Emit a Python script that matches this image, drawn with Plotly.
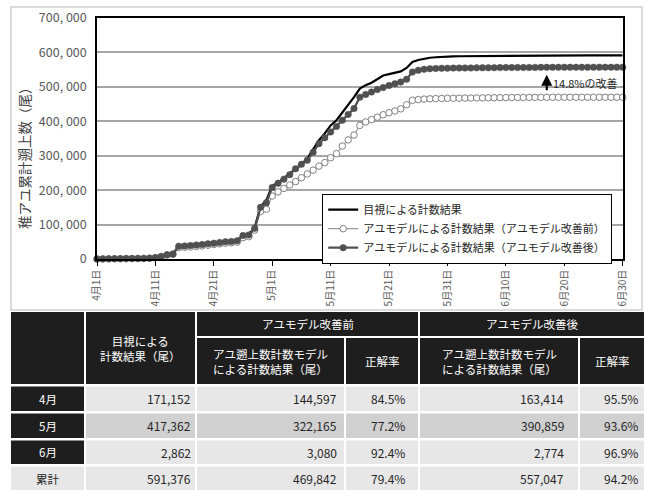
import plotly.graph_objects as go
import pandas as pd

# ---------------- data ----------------
dates = pd.date_range("2023-04-01", "2023-06-30")
categories = [f"{d.month}月{d.day}日" for d in dates]

visual = [
    0, 300, 500, 700, 900, 1100, 1300, 1500, 1800, 2500,
    4000, 8000, 13000, 15000, 38000, 39000, 40500, 41500, 43000, 45000,
    47000, 49000, 51000, 52000, 54000, 70000, 72000, 92000, 152000, 171152,
    212000, 222000, 235000, 248000, 263000, 275000, 292000, 318000, 345000, 365000,
    388000, 403000, 425000, 446000, 470000, 495000, 505000, 512000, 522000, 533000,
    537000, 540000, 545000, 555000, 572000, 578000, 582000, 584500, 586000, 587500,
    588514,
    588700, 588900, 589100, 589300, 589500, 589700, 589850, 590000, 590150, 590300,
    590400, 590500, 590600, 590700, 590800, 590880, 590960, 591040, 591100, 591160,
    591210, 591250, 591280, 591300, 591320, 591335, 591350, 591360, 591370, 591376,
]
model_before = [
    0, 300, 500, 700, 900, 1100, 1300, 1500, 1800, 2400,
    3800, 7000, 11500, 13500, 33000, 34000, 35000, 36500, 38000, 40000,
    42000, 44000, 46000, 47000, 49000, 62000, 65000, 84000, 138000, 144597,
    183000, 195000, 205000, 215000, 225000, 236000, 247000, 258000, 270000, 280000,
    294000, 306000, 328000, 346000, 360000, 388000, 398000, 405000, 412000, 419000,
    425000, 430000, 436000, 448000, 461000, 463000, 464500, 465300, 465800, 466300,
    466762,
    466950, 467150, 467350, 467550, 467750, 467950, 468150, 468350, 468550, 468750,
    468900, 469050, 469200, 469350, 469480, 469560, 469630, 469690, 469730, 469760,
    469780, 469795, 469805, 469815, 469822, 469828, 469833, 469837, 469840, 469842,
]
model_after = [
    0, 300, 500, 700, 900, 1100, 1300, 1500, 1800, 2500,
    4000, 7500, 12500, 14500, 37000, 38000, 39000, 40500, 42000, 44000,
    46000, 48000, 50000, 51000, 53000, 68000, 70000, 89000, 150000, 163414,
    208000, 220000, 232000, 245000, 262000, 275000, 287000, 310000, 335000, 352000,
    369000, 385000, 403000, 420000, 437000, 470000, 478000, 485000, 492000, 498000,
    504000, 509000, 514000, 522000, 543000, 548000, 551000, 552500, 553300, 553800,
    554273,
    554450, 554650, 554850, 555050, 555250, 555450, 555600, 555750, 555900, 556050,
    556150, 556250, 556350, 556450, 556550, 556630, 556710, 556790, 556850, 556900,
    556940, 556970, 556990, 557005, 557015, 557025, 557032, 557038, 557043, 557047,
]

x_tick_labels = ["4月1日", "4月11日", "4月21日", "5月1日", "5月11日",
                 "5月21日", "5月31日", "6月10日", "6月20日", "6月30日"]
y_tick_vals = [0, 100000, 200000, 300000, 400000, 500000, 600000, 700000]
y_tick_labels = ["0", "100, 000", "200, 000", "300, 000", "400, 000",
                 "500, 000", "600, 000", "700, 000"]

series_names = ["目視による計数結果",
                "アユモデルによる計数結果（アユモデル改善前）",
                "アユモデルによる計数結果（アユモデル改善後）"]
y_title = "稚アユ累計遡上数（尾）"
note_text = "14.8%の改善"
note_day = "6月17日"
note_tip, note_text_y = 535000, 512000

# table
row_labels = ["4月", "5月", "6月", "累計"]
tbl_visual = [171152, 417362, 2862, 591376]
tbl_before = [144597, 322165, 3080, 469842]
tbl_before_rate = [84.5, 77.2, 92.4, 79.4]
tbl_after = [163414, 390859, 2774, 557047]
tbl_after_rate = [95.5, 93.6, 96.9, 94.2]
hdr_visual = "目視による<br>計数結果（尾）"
hdr_before = "アユモデル改善前"
hdr_after = "アユモデル改善後"
hdr_model = "アユ遡上数計数モデル<br>による計数結果（尾）"
hdr_rate = "正解率"

# ---------------- layout helpers ----------------
W, H = 647, 490
FONT = "Noto Sans CJK JP"


def fx(p):
    return p / W


def fy(p):
    return 1 - p / H


fig = go.Figure()

fig.add_trace(go.Scatter(
    x=categories, y=visual, name=series_names[0], mode="lines",
    line=dict(color="#000000", width=2.2), cliponaxis=False))
fig.add_trace(go.Scatter(
    x=categories, y=model_before, name=series_names[1], mode="lines+markers",
    line=dict(color="#7f7f7f", width=1),
    marker=dict(symbol="circle", size=6.5, color="#ffffff",
                line=dict(color="#7f7f7f", width=1)), cliponaxis=False))
fig.add_trace(go.Scatter(
    x=categories, y=model_after, name=series_names[2], mode="lines+markers",
    line=dict(color="#505050", width=2.2),
    marker=dict(symbol="circle", size=6.5, color="#505050",
                line=dict(color="#505050", width=0.5)), cliponaxis=False))

shapes = []
annotations = []

# outer frame of chart area
shapes.append(dict(type="rect", xref="paper", yref="paper",
                   x0=fx(11), x1=fx(642), y0=fy(310), y1=fy(7),
                   line=dict(color="#d0d0d0", width=1.5), layer="below"))

# y-axis title
annotations.append(dict(text=y_title, xref="paper", yref="paper",
                        x=fx(24), y=fy(155), xanchor="center", yanchor="middle",
                        textangle=-90, showarrow=False,
                        font=dict(family=FONT, size=13.5, color="#404040")))

# improvement note
annotations.append(dict(x=note_day, y=note_tip, xref="x", yref="y", text="",
                        showarrow=True, ax=0, ay=17, arrowhead=2, arrowsize=1,
                        arrowwidth=2.2, arrowcolor="#000000"))
annotations.append(dict(x=note_day, y=note_text_y, xref="x", yref="y",
                        text=note_text, showarrow=False, xanchor="left",
                        xshift=4, font=dict(family=FONT, size=11, color="#262626")))

# ---------------- table ----------------
BLACK = "#1e1e1e"
LIGHT = "#e7e7e7"
MID = "#d0d0d0"
cols = [(11, 84), (86, 195), (197, 344), (346, 418), (420, 578), (580, 644)]
h1 = (312, 336)
h2 = (338, 384)
rows = [(386.5, 411), (413.5, 438), (440.5, 464), (466.5, 491)]
right_text = [None, 193, 339, 407, 566, 640]


def rect(x0, y0, x1, y1, color):
    shapes.append(dict(type="rect", xref="paper", yref="paper",
                       x0=fx(x0), x1=fx(x1), y0=fy(y1), y1=fy(y0),
                       fillcolor=color, line=dict(width=0), layer="below"))


def text(t, x, y, color, size=11.5, xanchor="center", align="center"):
    annotations.append(dict(text=t, xref="paper", yref="paper", x=fx(x), y=fy(y),
                            xanchor=xanchor, yanchor="middle", align=align,
                            showarrow=False,
                            font=dict(family=FONT, size=size, color=color)))


# header
rect(cols[0][0], h1[0], cols[0][1], h2[1], BLACK)
rect(cols[1][0], h1[0], cols[1][1], h2[1], BLACK)
text(hdr_visual, (cols[1][0] + cols[1][1]) / 2, (h1[0] + h2[1]) / 2, "#ffffff")
rect(cols[2][0], h1[0], cols[3][1], h1[1], BLACK)
text(hdr_before, (cols[2][0] + cols[3][1]) / 2, (h1[0] + h1[1]) / 2, "#ffffff")
rect(cols[4][0], h1[0], cols[5][1], h1[1], BLACK)
text(hdr_after, (cols[4][0] + cols[5][1]) / 2, (h1[0] + h1[1]) / 2, "#ffffff")
for ci, t in [(2, hdr_model), (3, hdr_rate), (4, hdr_model), (5, hdr_rate)]:
    rect(cols[ci][0], h2[0], cols[ci][1], h2[1], BLACK)
    text(t, (cols[ci][0] + cols[ci][1]) / 2, (h2[0] + h2[1]) / 2, "#ffffff",
         align="left")

# body
for ri, (y0, y1) in enumerate(rows):
    is_total = ri == len(rows) - 1
    data_color = MID if ri == 1 else LIGHT
    rect(cols[0][0], y0, cols[0][1], y1, LIGHT if is_total else BLACK)
    text(row_labels[ri], (cols[0][0] + cols[0][1]) / 2, (y0 + y1) / 2,
         "#262626" if is_total else "#ffffff")
    vals = [f"{tbl_visual[ri]:,}", f"{tbl_before[ri]:,}", f"{tbl_before_rate[ri]:.1f}%",
            f"{tbl_after[ri]:,}", f"{tbl_after_rate[ri]:.1f}%"]
    for ci in range(1, 6):
        rect(cols[ci][0], y0, cols[ci][1], y1, data_color)
        text(vals[ci - 1], right_text[ci], (y0 + y1) / 2, "#262626", size=12,
             xanchor="right")

fig.update_layout(
    width=W, height=H, autosize=False,
    margin=dict(l=0, r=0, t=0, b=0, autoexpand=False),
    paper_bgcolor="#ffffff", plot_bgcolor="#ffffff",
    font=dict(family=FONT, size=11, color="#404040"),
    showlegend=True,
    legend=dict(x=fx(322), y=fy(194), xanchor="left", yanchor="top",
                bgcolor="#ffffff", bordercolor="#000000", borderwidth=1.2,
                font=dict(family=FONT, size=11, color="#262626"),
                tracegroupgap=0, itemwidth=30),
    xaxis=dict(domain=[fx(97), fx(622.7)], type="category", automargin=False,
               categoryorder="array", categoryarray=categories,
               range=[0, len(categories) - 1],
               tickvals=x_tick_labels, ticktext=x_tick_labels, tickangle=-90,
               tickfont=dict(family=FONT, size=10, color="#595959"),
               ticks="outside", ticklen=5, tickwidth=1.2, tickcolor="#000000",
               showline=True, linecolor="#000000", linewidth=1.5, mirror=True,
               showgrid=False, zeroline=False),
    yaxis=dict(domain=[fy(259), fy(18)], range=[0, 700000], automargin=False,
               tickvals=y_tick_vals, ticktext=y_tick_labels,
               tickfont=dict(family=FONT, size=12.5, color="#595959"),
               ticklabelstandoff=6,
               showline=True, linecolor="#000000", linewidth=1.5, mirror=True,
               showgrid=True, gridcolor="#a6a6a6", gridwidth=1.5, zeroline=False),
    shapes=shapes,
    annotations=annotations,
)

fig.write_html("out.html")
